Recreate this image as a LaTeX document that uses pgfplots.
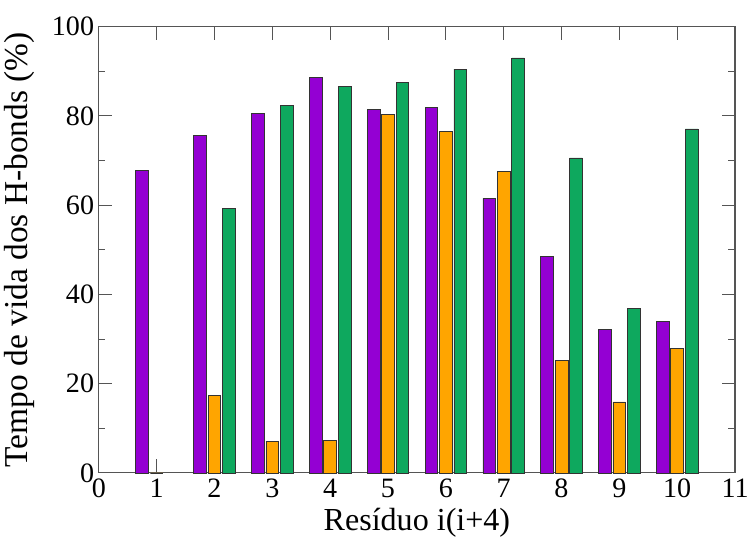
\documentclass[border=0pt]{standalone}
\usepackage{fontspec}
\setmainfont{Liberation Serif}
\usepackage{pgfplots}
\pgfplotsset{compat=1.18}

\definecolor{barpurple}{RGB}{148,0,211}
\definecolor{barorange}{RGB}{255,165,0}
\definecolor{bargreen}{RGB}{14,168,94}
\definecolor{axisgray}{RGB}{85,85,85}

\begin{document}
\begin{tikzpicture}
\begin{axis}[
    scale only axis,
    width=476pt, height=333.75pt,
    xmin=0, xmax=11,
    ymin=0, ymax=100,
    xtick={0,1,...,11},
    ytick={0,20,...,100},
    minor ytick={10,30,...,90},
    tick align=inside,
    major tick length=10pt,
    minor tick length=5pt,
    axis line style={axisgray, line width=0.9pt},
    every tick/.style={axisgray, line width=0.7pt},
    /pgf/number format/assume math mode=true,
    ticklabel style={font=\fontsize{21}{21}\selectfont},
    xticklabel style={yshift=-1pt},
    xlabel={Resíduo i(i+4)},
    ylabel={Tempo de vida dos H-bonds (\%)},
    label style={font=\fontsize{24}{24}\selectfont},
    xlabel style={yshift=-1pt},
    ylabel style={yshift=6pt, font=\fontsize{25}{25}\selectfont},
    clip=false,
    % keep some white space above the frame, as in the original
    after end axis/.code={\path (rel axis cs:0,1) -- ++(0,20pt);},
]
\addplot[ybar, bar width=0.22, bar shift=-0.25, fill=barpurple, draw=black!80, line width=0.5pt]
    coordinates {(1,67.7) (2,75.7) (3,80.5) (4,88.7) (5,81.5) (6,82.0) (7,61.5) (8,48.6) (9,32.1) (10,34.0)};
\addplot[ybar, bar width=0.22, bar shift=0, fill=barorange, draw=black!80, line width=0.5pt]
    coordinates {(1,0) (2,17.4) (3,7.1) (4,7.3) (5,80.4) (6,76.5) (7,67.6) (8,25.2) (9,15.9) (10,27.9)};
\addplot[ybar, bar width=0.22, bar shift=0.25, fill=bargreen, draw=black!80, line width=0.5pt]
    coordinates {(2,59.2) (3,82.4) (4,86.7) (5,87.5) (6,90.5) (7,93.0) (8,70.6) (9,36.9) (10,77.1)};
\end{axis}
\end{tikzpicture}
\end{document}
